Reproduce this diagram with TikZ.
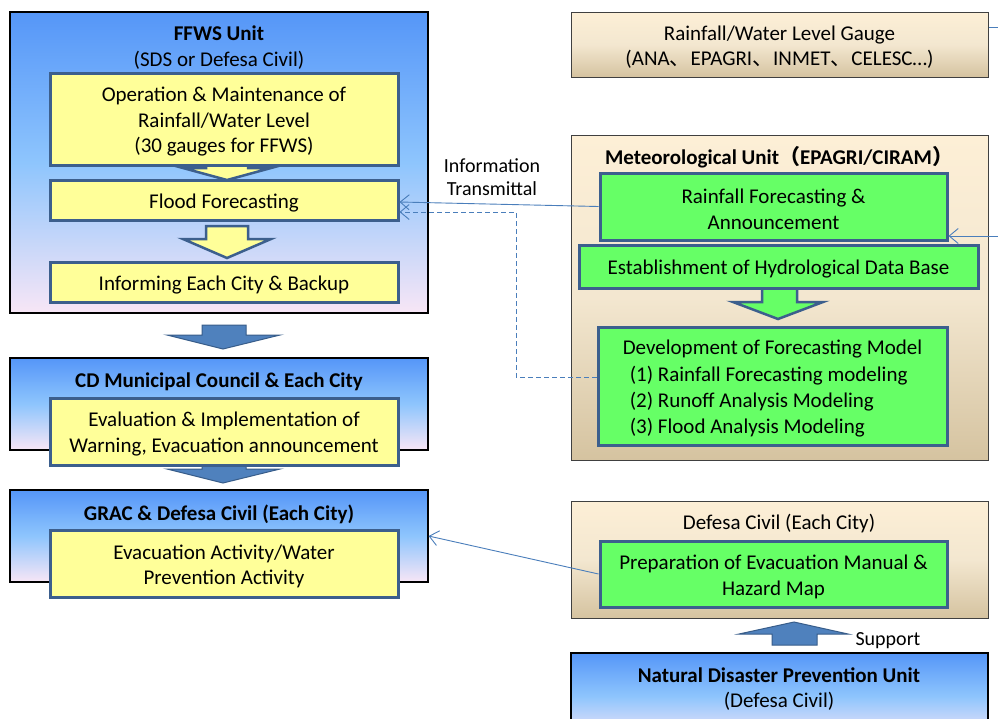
\documentclass[tikz,border=0pt]{standalone}
\usepackage{fontspec}
\setmainfont{Carlito}
\newfontfamily\cjk{Noto Sans CJK SC}
\usetikzlibrary{arrows.meta}
\definecolor{blueTop}{HTML}{5596F8}
\definecolor{blueMid}{HTML}{8EC5FD}
\definecolor{bluePink}{HTML}{F8E6F6}
\definecolor{tanTop}{HTML}{FDEFD6}
\definecolor{tanMid}{HTML}{F3E7D0}
\definecolor{tanBot}{HTML}{D5C3A0}
\definecolor{tanEdge}{HTML}{404040}
\definecolor{yfill}{HTML}{FFFF99}
\definecolor{gfill}{HTML}{66FF66}
\definecolor{bedge}{HTML}{3C5F8D}
\definecolor{afill}{HTML}{4F81BD}
\definecolor{aedge}{HTML}{385D8A}
\definecolor{conncol}{HTML}{4A7EBB}
\newcommand\fstrut{\rule{0pt}{20pt}}
\begin{document}
\begin{tikzpicture}[x=1pt,y=-1pt,
  every node/.style={font=\fontsize{21}{25.5}\selectfont, align=center, inner sep=0pt},
  bluebox/.style={draw=black, line width=1.2pt, top color=blueTop, bottom color=bluePink, middle color=blueMid},
  tanbox/.style={draw=tanEdge, line width=1pt, top color=tanTop, bottom color=tanBot, middle color=tanMid},
  ybox/.style={draw=bedge, line width=3pt, fill=yfill},
  gbox/.style={draw=bedge, line width=3pt, fill=gfill},
  bigarrow/.style={draw=aedge, line width=1pt, fill=afill, line join=miter},
  yarrow/.style={draw=bedge, line width=2.5pt, fill=yfill},
  garrow/.style={draw=bedge, line width=2.5pt, fill=gfill},
  conn/.style={draw=conncol, line width=0.9pt, -{Straight Barb[length=9pt,width=15pt]}},
  connline/.style={draw=conncol, line width=0.9pt},
  lbl/.style={font=\fontsize{20}{23}\selectfont}
]
\useasboundingbox (0,0) rectangle (998,718);
\fill[white] (0,0) rectangle (998,718);
\clip (0,0) rectangle (998,718);

% ---------- left column ----------
\node[bluebox, minimum width=418pt, minimum height=301pt] (ffws) at (219,162.5) {};
\node (ffwstitle) at (219,45) {\fstrut\textbf{FFWS Unit}\\(SDS or Defesa Civil)};
\draw[yarrow] (206,160) -- (248,160) -- (248,168) -- (271,168) -- (227,180) -- (183,168) -- (206,168) -- cycle;
\draw[yarrow] (206,226) -- (248,226) -- (248,239) -- (271,239) -- (227,258) -- (183,239) -- (206,239) -- cycle;
\node[ybox, minimum width=348pt, minimum height=92pt] (om) at (224,119) {\fstrut Operation \& Maintenance of\\Rainfall/Water Level\\(30 gauges for FFWS)};
\node[ybox, minimum width=348pt, minimum height=40pt] (flood) at (224,200) {\fstrut Flood Forecasting};
\node[ybox, minimum width=348pt, minimum height=40pt] (inform) at (224,282) {\fstrut Informing Each City \& Backup};

\draw[bigarrow] (202,325) -- (246,325) -- (246,335) -- (280,335) -- (223,349) -- (167,335) -- (202,335) -- cycle;

\node[bluebox, minimum width=418pt, minimum height=92pt] (cd) at (219,404) {};
\node (cdtitle) at (219,379) {\fstrut\textbf{CD Municipal Council \& Each City}};
\draw[bigarrow] (202,459) -- (246,459) -- (246,469) -- (280,469) -- (223,483) -- (167,469) -- (202,469) -- cycle;
\node[ybox, minimum width=348pt, minimum height=67pt] (evalimp) at (224,431.5) {\fstrut Evaluation \& Implementation of\\Warning, Evacuation announcement};

\node[bluebox, minimum width=418pt, minimum height=92pt] (grac) at (219,536) {};
\node (gractitle) at (219,512) {\fstrut\textbf{GRAC \& Defesa Civil (Each City)}};
\node[ybox, minimum width=348pt, minimum height=67pt] (evac) at (224,563.5) {\fstrut Evacuation Activity/Water\\Prevention Activity};

% ---------- right column ----------
\node[tanbox, minimum width=417pt, minimum height=65pt] (gauge) at (779.5,44.5) {\fstrut Rainfall/Water Level Gauge\\(ANA{\cjk 、}EPAGRI{\cjk 、}INMET{\cjk 、}CELESC…)};

\node[tanbox, minimum width=417pt, minimum height=325pt] (met) at (779.5,297.5) {};
\node (mettitle) at (779,156) {\fstrut\textbf{Meteorological Unit{\cjk （}EPAGRI/CIRAM{\cjk ）}}};
\node[gbox, minimum width=347pt, minimum height=67pt] (rf) at (773.5,206.5) {\fstrut Rainfall Forecasting \&\\Announcement};
\draw[garrow] (762,285) -- (797,285) -- (797,302) -- (823,302) -- (778,319) -- (733,302) -- (762,302) -- cycle;
\node[gbox, minimum width=399pt, minimum height=43pt] (est) at (778.5,266.5) {\fstrut Establishment of Hydrological Data Base};
\node[gbox, minimum width=349pt, minimum height=118pt, align=left, font=\fontsize{21}{26.3}\selectfont] (dev) at (772.5,386) {\fstrut Development of Forecasting Model\\\hspace*{7pt}(1) Rainfall Forecasting modeling\\\hspace*{7pt}(2) Runoff Analysis Modeling\\\hspace*{7pt}(3) Flood Analysis Modeling};

\node[tanbox, minimum width=417pt, minimum height=117pt] (defesa) at (779.5,559.5) {};
\node (defesatitle) at (779,521) {\fstrut Defesa Civil (Each City)};
\node[gbox, minimum width=347pt, minimum height=66pt] (prep) at (773.5,574) {\fstrut Preparation of Evacuation Manual \&\\Hazard Map};

\draw[bigarrow] (772,645) -- (817,645) -- (817,634) -- (848,634) -- (794,622) -- (739,634) -- (772,634) -- cycle;
\node[lbl] (support) at (888,638) {\rule{0pt}{18pt}Support};

\node[bluebox, minimum width=417pt, minimum height=87pt] (ndp) at (779.5,696.5) {};
\node (ndptitle) at (779,686.5) {\fstrut\textbf{Natural Disaster Prevention Unit}\\(Defesa Civil)};

\node[lbl] (info) at (492,175.5) {\rule{0pt}{17pt}Information\\Transmittal};

% ---------- connectors ----------
\draw[conn] (rf.west) -- ([yshift=-2pt]flood.east);
\coordinate (dcorner) at (516,377);
\draw[conn, dash pattern=on 5pt off 3pt] ([yshift=9pt]dev.west) -- (dcorner) |- ([yshift=-12pt]flood.east);
\coordinate (gout) at (998,27);
\draw[connline] ([yshift=17.5pt]gauge.east) -- (gout);
\coordinate (rfin) at (998,236);
\draw[conn] (rfin) -- ([yshift=-29.5pt]rf.east);
\draw[conn] (prep.west) -- (grac.east);
\end{tikzpicture}
\end{document}
